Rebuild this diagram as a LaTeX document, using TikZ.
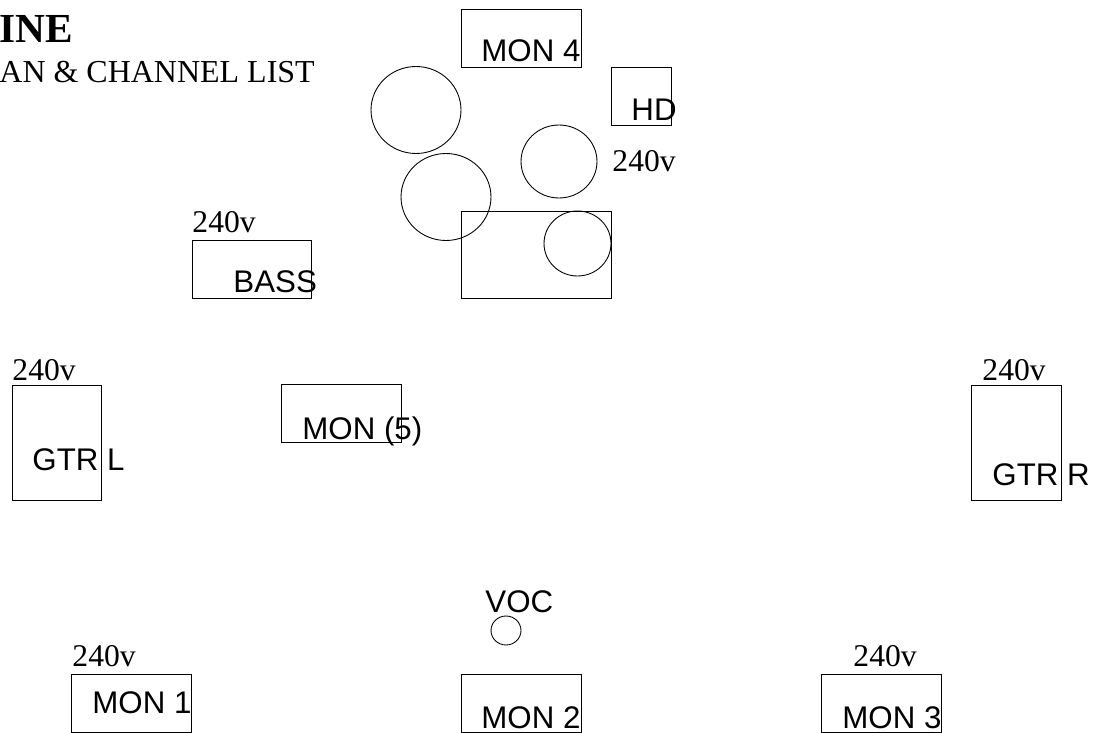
\documentclass[tikz,border=0pt]{standalone}
\usepackage{fontspec}
\setmainfont{Liberation Serif}
\setsansfont{Liberation Sans}
\begin{document}
\begin{tikzpicture}[x=0.02cm, y=-0.02cm, line width=0.5pt,
	lbl/.style={font=\sffamily\fontsize{17.8}{17.8}\selectfont, inner sep=0pt, anchor=base west},
	volt/.style={font=\fontsize{18}{18}\selectfont, inner sep=0pt, anchor=base west}]
	\useasboundingbox (0,0) rectangle (1096,733);
	% heading
	\node[font=\bfseries\fontsize{23.5}{23.5}\selectfont, inner sep=0pt, anchor=base west] (title) at (-1,43) {INE};
	\node[font=\fontsize{18.2}{18.2}\selectfont, inner sep=0pt, anchor=base west] (subtitle) at (-1,83) {AN \& CHANNEL LIST};
	% drum kit
	\draw (461,9) rectangle (581,67);
	\node[lbl] (mon4) at (481,62) {MON 4};
	\draw (611,67) rectangle (671,125);
	\node[lbl] (hd) at (631,121) {HD};
	\draw (416,110) ellipse [x radius=0.9cm, y radius=0.87cm];
	\draw (446,197) ellipse [x radius=0.9cm, y radius=0.87cm];
	\draw (559,161.5) ellipse [x radius=0.76cm, y radius=0.73cm];
	\draw (461,211) rectangle (611,298);
	\draw (577.5,243.5) ellipse [x radius=0.67cm, y radius=0.65cm];
	\node[volt] (pwrdrum) at (612,172) {240v};
	% bass
	\node[volt] (pwrbass) at (192,233) {240v};
	\draw (192,240) rectangle (311,298);
	\node[lbl] (bass) at (233,293) {BASS};
	\draw (281,384) rectangle (401,442);
	\node[lbl] (mon5) at (302,439) {MON (5)};
	% guitars
	\node[volt] (pwrgl) at (12,380) {240v};
	\draw (12,385) rectangle (101,500);
	\node[lbl] (gtrl) at (32,470) {GTR L};
	\node[volt] (pwrgr) at (982,380) {240v};
	\draw (971,385) rectangle (1061,500);
	\node[lbl] (gtrr) at (992,485) {GTR R};
	% vocal
	\node[lbl] (voc) at (485,612) {VOC};
	\draw (506,630.5) ellipse [x radius=0.3cm, y radius=0.29cm];
	% wedges
	\node[volt] (pwrm1) at (72,666) {240v};
	\draw (71,674) rectangle (191,732);
	\node[lbl] (mon1) at (92,713) {MON 1};
	\draw (461,674) rectangle (581,732);
	\node[lbl] (mon2) at (481,728) {MON 2};
	\node[volt] (pwrm3) at (853,666) {240v};
	\draw (821,674) rectangle (941,732);
	\node[lbl] (mon3) at (842,728) {MON 3};
\end{tikzpicture}
\end{document}
